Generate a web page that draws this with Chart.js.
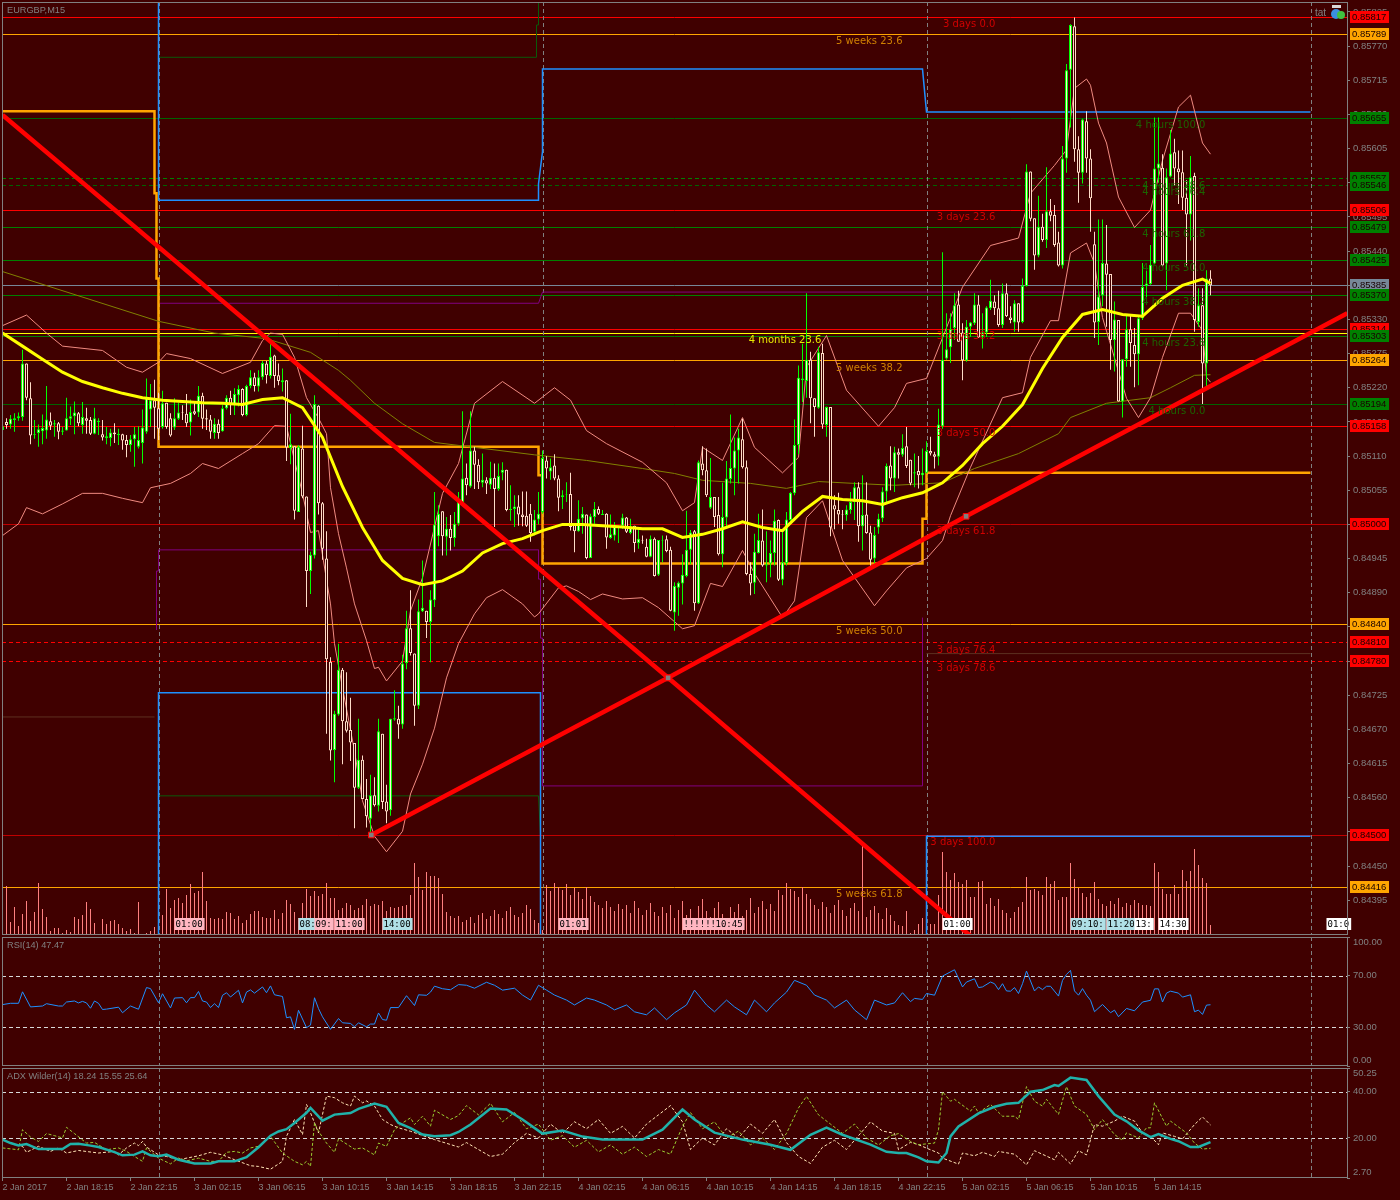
<!DOCTYPE html>
<html>
<head>
<meta charset="utf-8">
<title>EURGBP,M15</title>
<script src="https://cdn.jsdelivr.net/npm/chart.js@4/dist/chart.umd.min.js"></script>
<style>
html, body { margin: 0; padding: 0; background: #400000; }
canvas { position: absolute; left: 0; display: block; }
</style>
</head>
<body>
<canvas id="pricePane" width="1400" height="936" style="top:0"></canvas>
<canvas id="rsiPane" width="1400" height="131" style="top:936px"></canvas>
<canvas id="adxPane" width="1400" height="132" style="top:1068px"></canvas>
<script>
// prices are kept in points (0.85385 = 85385)
const highs = [85166,85171,85176,85179,85180,85281,85259,85229,85168,85161,
85177,85223,85180,85168,85165,85157,85204,85190,85198,85181,
85197,85188,85173,85188,85171,85168,85157,85154,85163,85154,
85146,85144,85144,85157,85158,85185,85235,85226,85233,85212,
85215,85196,85179,85203,85196,85192,85210,85201,85197,85223,
85212,85185,85176,85171,85169,85192,85208,85215,85219,85224,
85219,85225,85248,85244,85248,85263,85263,85296,85273,85259,
85251,85232,85178,85126,85128,85159,85045,84956,85208,85192,
85036,84989,84786,84700,84808,84769,84762,84721,84648,84687,
84628,84590,84597,84593,84687,84663,84581,84687,84733,84708,
84790,84861,84894,84792,84879,84942,84861,84894,85052,85031,
85021,85012,85015,85020,85052,85182,85098,85182,85125,85105,
85114,85076,85101,85098,85098,85100,85088,85063,85047,85047,
85053,85053,85033,85023,85052,85119,85110,85106,85113,85079,
85055,85068,85083,85001,85039,85028,85016,85017,85036,85029,
85023,85018,85016,85004,84998,85017,85012,85009,84998,84996,
84982,84977,84982,84979,84975,84982,84982,84964,84907,84908,
84952,85022,84991,84991,85103,85126,85122,85107,85044,85044,
85067,85102,85177,85140,85154,85170,85103,84939,84985,85017,
85024,84989,84974,85024,85008,84988,85020,85052,85169,85256,
85291,85372,85278,85203,85286,85291,85190,85189,85047,85051,
85023,85031,85052,85068,85068,85079,85068,84998,84996,85017,
85060,85098,85126,85125,85122,85145,85157,85104,85114,85110,
85122,85134,85141,85117,85186,85438,85340,85340,85372,85376,
85324,85329,85326,85372,85369,85340,85351,85394,85369,85376,
85388,85388,85351,85361,85356,85396,85580,85568,85493,85529,
85500,85575,85524,85514,85471,85609,85741,85805,85816,85625,
85653,85665,85604,85471,85491,85491,85482,85403,85359,85329,
85266,85336,85336,85316,85337,85421,85418,85450,85655,85655,
85596,85573,85635,85621,85602,85602,85554,85593,85566,85380,
85380,85409,85409];
const lows = [85138,85154,85154,85149,85167,85167,85200,85129,85138,85125,
85129,85138,85152,85141,85137,85144,85151,85160,85145,85158,
85146,85146,85144,85145,85144,85135,85129,85126,85131,85128,
85120,85108,85117,85093,85122,85098,85146,85157,85138,85136,
85154,85154,85141,85152,85168,85168,85157,85143,85176,85173,
85154,85152,85138,85138,85138,85149,85185,85176,85176,85190,
85174,85174,85219,85214,85214,85233,85227,85235,85220,85224,
85214,85102,85097,85008,85020,85042,84867,84888,84945,85016,
84943,84663,84620,84585,84692,84614,84665,84619,84511,84574,
84558,84512,84496,84546,84538,84542,84519,84531,84684,84655,
84671,84767,84789,84676,84703,84859,84817,84778,84867,84965,
84950,84950,84958,84964,84998,85031,85047,85059,85057,85057,
85060,85049,85057,84996,85054,85071,85021,85006,84996,84998,
84997,84996,84972,84982,85000,85017,85074,85072,85071,85021,
85025,85036,84990,84955,84988,84985,84944,84946,85001,85015,
85015,84961,84977,84974,84970,84993,84986,84984,84955,84961,
84969,84947,84947,84916,84917,84939,84955,84860,84829,84853,
84871,84915,84936,84861,84872,85079,85044,85025,84996,84950,
84931,84996,85066,85047,85066,85090,84918,84886,84888,84953,
84932,84907,84915,84934,84909,84902,84934,85006,85047,85113,
85197,85204,85163,85141,85186,85154,85141,84981,84992,85001,
84992,85006,85017,85007,84972,84958,84985,84927,84937,84985,
85004,85036,85055,85052,85074,85109,85091,85063,85060,85058,
85063,85082,85111,85090,85095,85154,85265,85260,85297,85294,
85232,85262,85302,85321,85300,85283,85302,85345,85337,85318,
85316,85334,85324,85310,85310,85324,85383,85488,85410,85430,
85455,85445,85488,85447,85415,85412,85566,85639,85584,85518,
85549,85566,85471,85300,85289,85351,85318,85249,85246,85198,
85172,85254,85254,85221,85224,85329,85356,85386,85419,85550,
85415,85377,85559,85546,85516,85506,85417,85457,85310,85318,
85194,85221,85369];
const opens = [85152,85165,85161,85168,85171,85173,85259,85203,85144,85147,
85150,85151,85166,85161,85163,85149,85151,85170,85174,85179,
85160,85171,85168,85146,85165,85145,85139,85139,85148,85144,
85145,85136,85128,85137,85125,85131,85149,85185,85200,85187,
85157,85196,85171,85156,85170,85181,85178,85164,85182,85180,
85207,85171,85169,85147,85162,85150,85187,85204,85194,85208,
85218,85176,85223,85237,85222,85237,85259,85239,85272,85240,
85229,85232,85123,85126,85020,85122,85045,84925,84950,85191,
85034,84945,84779,84637,84694,84766,84683,84669,84648,84576,
84621,84558,84526,84564,84547,84663,84554,84540,84686,84687,
84678,84777,84833,84792,84708,84860,84861,84843,84878,84981,
85021,84980,84993,84978,85001,85034,85075,85061,85119,85096,
85067,85071,85064,85075,85057,85083,85088,85023,85025,85029,
85016,85014,85017,84988,85008,85020,85103,85085,85095,85074,
85044,85048,85049,85000,84989,85010,85016,84946,85012,85025,
85015,85017,84978,84982,84996,84998,85011,84986,84998,84970,
84975,84964,84948,84977,84919,84974,84976,84959,84858,84898,
84905,84917,84959,84989,84873,85098,85087,85027,85044,85015,
84952,85011,85073,85090,85119,85137,85092,84920,84906,84954,
84974,84934,84937,84954,85007,84911,84938,85007,85050,85128,
85232,85231,85265,85203,85188,85276,85160,85189,85031,85023,
85016,85015,85023,85036,85060,84997,85016,84987,84945,84995,
85010,85053,85095,85074,85116,85112,85126,85104,85082,85086,
85079,85083,85118,85113,85109,85158,85267,85285,85316,85354,
85309,85264,85318,85324,85354,85302,85309,85348,85359,85348,
85321,85372,85333,85325,85356,85326,85384,85568,85493,85433,
85479,85458,85504,85498,85454,85417,85589,85732,85802,85604,
85566,85649,85589,85451,85326,85369,85420,85403,85297,85329,
85198,85266,85314,85289,85274,85332,85384,85387,85420,85573,
85574,85420,85560,85599,85573,85567,85526,85499,85561,85326,
85353,85259,85396];
const closes = [85158,85160,85170,85171,85174,85259,85204,85143,85145,85153,
85155,85169,85159,85163,85149,85151,85171,85174,85180,85163,
85173,85167,85146,85171,85167,85140,85142,85148,85145,85146,
85135,85128,85137,85145,85136,85156,85204,85200,85188,85154,
85195,85157,85143,85171,85180,85180,85163,85181,85178,85207,
85170,85169,85149,85162,85147,85187,85204,85192,85210,85218,
85176,85223,85237,85223,85237,85260,85240,85270,85239,85231,
85232,85124,85129,85022,85125,85045,84925,84951,85194,85034,
84961,84783,84636,84695,84766,84683,84668,84649,84576,84621,
84558,84530,84564,84548,84667,84553,84538,84687,84688,84678,
84776,84833,84793,84708,84860,84866,84843,84879,85000,85017,
84981,84993,84978,85001,85041,85074,85063,85119,85096,85068,
85072,85066,85075,85057,85078,85088,85023,85025,85029,85016,
85012,84998,84986,85008,85017,85107,85090,85092,85074,85043,
85047,85049,84996,84989,85009,85017,84946,85013,85025,85017,
85017,84979,84984,84997,84997,85011,84988,84997,84970,84977,
84974,84948,84977,84917,84975,84975,84957,84861,84901,84906,
84919,84959,84987,84873,85100,85087,85047,85044,85012,84952,
85012,85074,85091,85119,85140,85092,84920,84905,84956,84975,
84934,84936,84954,85006,84911,84939,85008,85051,85128,85236,
85235,85265,85203,85189,85277,85161,85189,84995,85024,85016,
85015,85024,85036,85060,84997,85015,84986,84943,84983,85009,
85053,85094,85074,85116,85112,85123,85094,85066,85084,85079,
85083,85118,85114,85109,85161,85265,85282,85314,85353,85294,
85264,85318,85325,85354,85301,85309,85349,85360,85348,85321,
85372,85335,85329,85356,85325,85384,85568,85492,85433,85479,
85458,85504,85497,85450,85417,85589,85731,85804,85604,85566,
85652,85589,85525,85325,85367,85421,85402,85297,85330,85198,
85266,85314,85292,85274,85332,85382,85388,85418,85573,85581,
85417,85559,85597,85573,85567,85526,85499,85559,85329,85353,
85259,85396,85385];
const tickVolume = [20,49,13,28,9,21,34,14,23,52,
26,18,4,7,7,2,5,3,18,16,
20,33,26,12,1,16,11,14,15,11,
7,4,6,2,33,1,2,4,8,54,
20,46,27,35,37,32,40,51,42,44,
63,34,17,16,17,16,23,22,16,19,
12,15,21,24,24,18,17,17,25,16,
22,35,31,23,17,32,46,39,44,39,
41,52,37,37,25,27,32,30,25,27,
30,36,29,31,30,34,24,28,27,28,
29,30,40,72,58,45,63,59,59,57,
41,23,19,17,19,13,15,18,12,20,
22,16,19,25,21,17,24,28,20,18,
22,30,26,15,12,5,50,44,52,48,
45,51,40,47,43,36,48,39,33,30,
27,34,28,24,31,26,30,22,34,27,
20,25,32,23,19,28,22,30,17,25,
34,20,26,15,29,36,24,18,27,33,
21,16,28,23,31,19,25,37,22,28,
34,26,31,24,45,40,52,46,44,38,
48,41,36,30,26,33,28,22,30,35,
25,19,27,32,24,92,18,25,29,22,
16,27,20,14,10,9,24,2,5,11,
17,17,11,11,40,83,63,55,62,53,
51,55,38,38,53,54,31,37,29,36,
25,22,17,23,28,33,58,45,46,44,
40,58,51,54,35,38,38,72,56,47,
42,38,42,53,36,31,29,34,31,37,
28,32,30,35,32,30,30,29,72,63,
46,41,41,50,41,65,54,64,86,70,
57,52,10];

const smaBars = [0,5,10,15,20,25,30,35,40,45,50,55,60,65,70,75,80,85,90,95,100,105,110,115,120,125,130,135,140,145,150,155,160,165,170,175,180,185,190,195,200,205,210,215,220,225,230,235,240,245,250,255,260,265,270,275,280,285,290,295,300,302];
const smaValues = [85308,85287,85266,85245,85230,85220,85211,85204,85200,85198,85196,85195,85193,85201,85204,85188,85140,85061,84995,84942,84913,84903,84909,84925,84954,84969,84977,84990,85000,85000,84998,84996,84993,84993,84979,84984,84993,85004,84995,84990,85021,85045,85040,85038,85032,85043,85051,85067,85095,85130,85158,85193,85251,85301,85338,85346,85338,85335,85364,85385,85395,85388];
const bandUpperBars = [0,6,11,15,25,31,35,39,41,47,55,62,65,67,70,73,76,79,81,82,84,86,88,91,93,94,96,100,102,105,110,114,118,125,133,138,142,146,151,160,166,170,173,175,180,185,188,195,199,201,206,211,219,223,226,231,237,240,247,254,257,263,266,268,271,272,274,276,279,283,287,290,294,297,300,302];
const bandUpperValues = [85320,85337,85308,85287,85280,85253,85245,85261,85275,85267,85243,85261,85296,85308,85306,85269,85204,85171,85146,85059,84985,84930,84872,84813,84768,84770,84748,84780,84861,84914,85050,85098,85195,85230,85195,85220,85200,85151,85130,85100,85067,85022,85035,85124,85103,85172,85124,85083,85108,85253,85304,85216,85158,85188,85227,85235,85333,85382,85449,85461,85533,85578,85603,85702,85717,85707,85646,85614,85527,85478,85506,85586,85672,85691,85614,85596];
const bandLowerBars = [0,4,6,10,15,20,25,30,35,37,42,47,50,54,60,64,68,71,73,75,77,79,82,83,85,88,90,93,96,100,102,105,108,111,114,118,121,125,130,133,134,139,141,144,147,150,155,160,164,170,173,177,180,185,188,195,198,201,205,210,218,221,226,231,235,237,242,250,255,257,262,264,267,271,273,275,281,284,287,290,294,297,300,301,302];
const bandLowerValues = [84982,85001,85027,85017,85033,85050,85050,85042,85035,85059,85066,85082,85098,85090,85114,85130,85159,85158,85103,85050,84987,84990,84872,84808,84737,84635,84555,84498,84473,84506,84566,84614,84672,84753,84808,84856,84882,84895,84872,84851,84856,84898,84901,84892,84879,84888,84880,84882,84866,84832,84837,84905,84900,84958,84921,84850,84877,85011,85038,84942,84869,84893,84930,84945,84974,85014,85092,85204,85212,85269,85328,85328,85437,85453,85420,85333,85203,85172,85204,85269,85340,85340,85312,85237,85229];
const longMaBars = [0,39,53,66,77,84,87,93,100,108,118,133,146,160,168,175,187,196,204,213,223,235,243,254,264,267,276,287,292,298,302];
const longMaValues = [85407,85327,85308,85299,85277,85248,85232,85195,85162,85132,85124,85112,85103,85090,85082,85071,85066,85058,85069,85066,85063,85067,85090,85114,85146,85172,85195,85204,85220,85240,85241];

const dayBreakBars = [39,135,231,327];

// daily range steps
const orangeStepBars = [0,38,38,38.5,38.5,39,39,134,134,135,135,230,230,231,231,327];
const orangeStepValues = [85665,85665,85533,85533,85396,85396,85125,85125,85079,85079,84937,84937,85009,85009,85083,85083];
const blueHighBars = [39,39,134,134,135,135,230,231,327];
const blueHighValues = [85850,85522,85522,85548,85600,85733,85733,85664,85664];
const blueLowBars = [39,39,134,134.5,134.5];
const blueLowValues = [84300,84729,84729,84729,84300];
const blueLastBars = [231,231,327];
const blueLastValues = [84300,84498,84498];
const purpleHighBars = [39,134,135,327];
const purpleHighValues = [85356,85356,85374,85374];
const purpleLowBars = [38.5,38.5,39,39,134,134,134.5,134.5,135,135,230,230];
const purpleLowValues = [84830,84925,84925,84959,84959,84912,84912,84817,84817,84579,84579,84850];
const dimHighBars = [39,133.5,133.5,134,134];
const dimHighValues = [85752,85752,85804,85804,85850];
const dimLowBars = [39,39,134,134.5,134.5];
const dimLowValues = [84300,84563,84563,84500,84300];
const dimLeftBars = [0,38];
const dimLeftValues = [84690,84690];
const dimRightBars = [231,327];
const dimRightValues = [84792,84792];

// hand drawn trend lines, the middle anchors carry the square handles
const fallingTrendBars = [0,166.4,243];
const fallingTrendValues = [85659,84753,84332];
const risingTrendBars = [92.2,166.4,240.9,336.2];
const risingTrendValues = [84500,84753,85013,85340];

// horizontal price levels
const levelValues = [85817,85789,85655,85557,85546,85506,85479,85425,85385,85370,85314,85308,85303,85264,85194,85158,85000,84840,84810,84780,84500,84416];
const levelNames = ['3 days 0.0','5 weeks 23.6','4 hours 100.0','4 hours 78.6','4 hours 76.4','3 days 23.6','4 hours 61.8','4 hours 50.0','','4 hours 38.2','3 days 38.2','4 months 23.6','4 hours 23.6','5 weeks 38.2','4 hours 0.0','3 days 50.0','3 days 61.8','5 weeks 50.0','3 days 76.4','3 days 78.6','3 days 100.0','5 weeks 61.8'];
const levelColors = ['#ff0000','#ffa500','#006400','#008000','#006400','#ff0000','#008000','#008000','#778899','#008000','#ff0000','#ffff00','#008000','#ffa500','#006400','#ff0000','#c00000','#ffa500','#ff0000','#ff0000','#c00000','#ffa500'];
const levelDashed = [0,0,0,1,1,0,0,0,0,0,0,0,0,0,0,0,0,0,1,1,0,0];
const levelBoxed = [1,1,1,1,1,1,1,1,1,1,1,0,1,1,1,1,1,1,1,1,1,1];

const priceTicks = [85825,85770,85715,85660,85605,85550,85495,85440,85385,85330,85275,85220,85165,85110,85055,85000,84945,84890,84835,84780,84725,84670,84615,84560,84505,84450,84395];
const timeTickBars = [0,16,32,48,64,80,96,112,128,144,160,176,192,208,224,240,256,272,288];
const timeTickLabels = ['2 Jan 2017','2 Jan 18:15','2 Jan 22:15','3 Jan 02:15','3 Jan 06:15','3 Jan 10:15','3 Jan 14:15','3 Jan 18:15','3 Jan 22:15','4 Jan 02:15','4 Jan 06:15','4 Jan 10:15','4 Jan 14:15','4 Jan 18:15','4 Jan 22:15','5 Jan 02:15','5 Jan 06:15','5 Jan 10:15','5 Jan 14:15'];

// session tags sitting on the volume bars
const tagBars = [43,74,78,83,95,139,170,178,235,267,271,276,283,289,331];
const tagTexts = ['01:00','08:','09:','11:00','14:00','01:01','!!!!!! !','10:45','01:00','09:','10:','11:20','13:','14:30','01:0'];
const tagFills = ['#ffb6c1','#b0e0e6','#ffb6c1','#ffb6c1','#b0e0e6','#ffb6c1','#ffb6c1','#ffb6c1','#ffffff','#b0e0e6','#b0e0e6','#b0e0e6','#ffffff','#ffffff','#ffffff'];

// RSI(14)
const rsiBars = [0,2,4,5,7,10,11,14,15,16,18,19,20,21,22,23,24,25,26,29,30,32,34,36,37,39,40,42,43,45,46,47,48,49,50,51,52,53,54,55,56,57,59,60,61,62,63,65,66,67,68,70,71,72,73,74,76,77,78,79,80,82,84,85,87,88,89,91,92,93,94,95,96,97,99,101,103,104,106,107,108,110,112,114,116,118,121,123,125,128,130,132,134,136,138,141,143,146,148,151,153,156,158,161,163,166,168,171,173,176,178,181,183,186,188,191,193,196,198,201,203,206,208,211,213,216,218,221,223,225,227,228,230,231,233,235,238,240,241,243,244,245,247,248,249,250,251,252,253,254,255,256,258,259,260,261,262,264,265,266,267,268,269,270,271,272,273,275,277,278,279,281,283,285,287,288,289,290,291,292,294,295,297,298,299,300,301,302];
const rsiValues = [47.6,48.6,48.6,57.5,45.8,46.5,48.3,46.5,46.5,49.6,50.4,48.9,50.1,48.9,44.8,50.4,48.6,43.8,44.1,45.6,41.3,46.5,44,60.8,60,49,56,45,52.7,53,49,53,53,57.8,50.4,49.6,45.3,48.3,45.3,54.8,56.8,53.5,58.7,48.9,57.3,59,56.5,61.3,56.8,62.1,55.2,53.9,37.4,38.1,28.4,43.2,29.7,31.7,52.9,44.5,38.1,28.4,36.8,33.5,33,30.4,33.5,30.4,32.5,32.5,41.1,36,35.5,45.3,45.3,54.5,46.9,55.2,54.8,57.3,61.9,59.9,59.1,63.1,62.6,60.3,64.9,62.6,58.8,60.3,55,51.1,62.6,58.8,55,51.1,47.3,52.7,51.1,47.3,43.5,47.3,42,39.7,45,35.9,41.2,47.3,58.8,47.3,42,51.1,45.8,39.7,51.1,42,48.9,57.3,66.4,62.6,55,51.1,45,51.1,43.5,35.9,51.1,47.3,48.9,56.8,49.9,52.4,51.6,56.2,54.9,69.7,74.6,61.3,65.1,67.6,60.8,61.3,65.1,63.8,59.2,63.8,58.2,58,60.8,56.2,63.8,73.6,58.2,61.3,59.2,61.8,61.8,54.2,66.4,71,74.1,58.2,54.9,60,54.9,51,42.1,47.7,41.3,43.3,38.2,44.6,42.8,49.6,50.9,59.8,59.8,49.6,56.5,58,56.5,53.4,55.2,42.1,43.3,40,47.2,47.47];
const rsiGuides = [70,30];
const rsiTicks = [100,70,30,0];

// ADX Wilder(14)
const adxBars = [0,2,4,6,9,12,15,17,19,22,24,28,30,33,35,37,39,41,44,48,52,54,58,61,64,67,69,71,73,76,77,80,83,87,89,93,96,99,102,105,108,112,114,117,122,126,130,135,140,145,150,155,160,165,170,173,178,185,192,197,202,206,210,217,221,224,226,229,231,234,236,237,239,244,248,251,254,257,260,263,264,267,271,274,278,281,284,287,289,292,294,297,299,302];
const adxValues = [19.3,17.8,16.8,17.4,15.2,15.2,15.2,17.4,17.5,16.7,16.1,13.9,12.5,12.8,14.2,12.5,12.1,12.8,10.6,9,9,9.9,9.9,11.7,16,21,22.8,23.8,26.5,30.9,33,27.5,30.1,30.8,32.6,34.9,33.5,26.5,24.3,21.5,20.7,21.2,22.6,25.8,32.7,32.3,28,21.9,23.2,20.6,19.3,19.3,19.3,23.6,32.3,28,22.3,19.3,17.1,14.9,21.4,24.5,21.4,17.1,14,13.5,13.5,11.6,9.9,9.4,13.5,20.7,25,30.6,33.5,34.8,35.2,40,40.7,42.9,42.5,46.1,45.1,38.1,30.1,27.2,23.3,20.4,21.7,19.6,18.6,16.1,16.1,18.24];
const minusDiBars = [0,4,5,7,9,11,13,15,16,18,21,23,26,29,31,33,35,36,39,42,44,46,49,52,54,56,58,60,62,64,67,70,73,75,76,77,78,79,81,83,84,88,90,93,94,96,98,100,102,103,105,107,108,112,114,116,119,122,125,128,131,134,137,140,143,146,149,152,155,158,161,164,167,170,172,175,178,181,184,187,190,193,196,199,201,204,207,210,213,216,219,222,224,227,229,233,234,235,237,238,242,243,244,247,250,253,254,255,256,258,260,261,264,266,268,271,273,275,278,280,281,284,286,287,288,291,292,296,298,300,302];
const minusDiValues = [15.7,14.9,23.6,20.4,18.5,21.9,21,20,24.6,21.9,17.8,18.1,14.9,15.7,14.2,12,9.9,15.7,11.3,8.8,11.3,10.1,11.3,9.9,9.9,13.8,14.2,13.5,15.7,16.4,20.7,13.5,9.9,8.4,9.9,7.7,26.5,22.9,17.8,13.8,19.6,15.2,15.7,12.7,17.8,16.4,23.6,26.5,28.7,25.8,29.4,25.1,32,28,29.7,34,30,35,27,31,24,26,19,21,16,19,14,17,13,16,12,15,13,25,31,24,27,20,23,17,20,15,22,33,38,30,26,22,26,20,17,21,21.9,18.5,17.1,17.8,23.6,40,35.9,36.7,31.6,33.8,30.9,34.5,29.4,29.4,28,35.2,42.2,35.9,33.8,36.7,30.2,42.2,33.8,30.2,23.6,28,21.5,19,22.2,20,24.4,24.4,35.2,25.1,27.3,22.2,17.8,15.2,15.55];
const plusDiBars = [0,3,5,6,9,12,14,16,19,24,28,29,31,33,34,35,36,39,41,44,49,52,55,58,62,64,67,70,71,73,75,76,77,79,81,83,85,87,88,90,91,93,95,97,99,102,108,114,116,119,122,125,128,131,134,137,140,143,146,149,152,155,158,161,164,167,170,172,175,178,181,184,187,190,193,196,199,202,205,208,211,214,217,220,223,224,227,229,232,234,235,239,240,243,245,248,249,253,256,258,263,264,267,269,271,273,275,278,280,283,285,287,289,290,293,295,298,300,302];
const plusDiValues = [19.3,17.1,16.4,13.8,16.4,14.2,15.7,13.5,14.6,13.5,14.2,12.7,15.7,17.8,16.7,18.5,16.1,12.7,12,10.6,12.3,13.8,12.7,10.6,8,7.7,6.5,9.9,20.7,28,21.5,34.5,30.9,22.2,38.1,37.4,35.2,33.8,38.1,35.2,36,33.8,28,25.8,24.4,22.9,19.3,16.1,18,15,12,13,18,22,20,26,22,27,24,28,22,25,20,26,30,34,27,15,20,17,24,20,26,22,28,18,12,9,16,19,15,21,27,23,22,14.9,18.1,17.1,14.9,13.5,11.3,8.7,13.5,12.3,13.8,12,14.2,13,8.4,14.5,10.6,13.8,8.8,14.5,12.7,25.8,25.1,27.3,29.4,27.3,22.2,20.7,17.1,22.2,20.7,19.6,25.8,29.1,25.64];
const adxGuides = [40,20];
const adxTicks = [50.25,40,20,2.7];

const barIndex = closes.map((c, i) => i);
const FONT = '"Liberation Sans", sans-serif';
const AXIS_GRAY = '#808080';
const BG = '#400000';

const xMin = -0.125, xMax = 336.125;

function poly(bars, values, color, width, order, axisId, dash) {
  return {
    type: 'line',
    data: bars.map((b, i) => ({ x: b, y: values[i] })),
    borderColor: color,
    borderWidth: width,
    borderDash: dash || [],
    pointRadius: 0,
    tension: 0,
    fill: false,
    order: order,
    yAxisID: axisId || 'y'
  };
}

function xScale(showLabels) {
  return {
    type: 'linear', min: xMin, max: xMax, offset: false,
    display: showLabels,
    position: 'bottom',
    grid: { display: showLabels, drawOnChartArea: false, offset: false, color: AXIS_GRAY, tickLength: 3 },
    border: { display: false },
    afterBuildTicks: ax => { ax.ticks = timeTickBars.map(v => ({ value: v })); },
    afterFit: ax => { if (showLabels) ax.height = 22; },
    ticks: {
      color: AXIS_GRAY, font: { family: FONT, size: 9 }, autoSkip: false, maxRotation: 0, minRotation: 0,
      align: 'start', padding: 1,
      callback: (v, i) => timeTickLabels[i]
    }
  };
}

// frame, day separators, level lines and the labels on top of the marks
const paneDecor = {
  id: 'paneDecor',
  beforeDatasetsDraw(chart, args, opts) {
    const { ctx, chartArea: a, scales } = chart;
    ctx.save();
    ctx.lineWidth = 1;
    if (opts.levels) {
      levelValues.forEach((v, i) => {
        const y = Math.round(scales.y.getPixelForValue(v)) + 0.5;
        ctx.strokeStyle = levelColors[i];
        ctx.setLineDash(levelDashed[i] ? [4, 3] : []);
        ctx.beginPath(); ctx.moveTo(a.left, y); ctx.lineTo(a.right, y); ctx.stroke();
      });
    }
    (opts.guides || []).forEach(v => {
      const y = Math.round(scales.y.getPixelForValue(v)) + 0.5;
      ctx.strokeStyle = '#d8d8d8';
      ctx.setLineDash([4, 3]);
      ctx.beginPath(); ctx.moveTo(a.left, y); ctx.lineTo(a.right, y); ctx.stroke();
    });
    ctx.strokeStyle = AXIS_GRAY;
    ctx.setLineDash([4, 3]);
    dayBreakBars.forEach(b => {
      const x = Math.round(scales.x.getPixelForValue(b)) + 0.5;
      ctx.beginPath(); ctx.moveTo(x, a.top); ctx.lineTo(x, a.bottom); ctx.stroke();
    });
    ctx.restore();
  },
  afterDatasetsDraw(chart, args, opts) {
    const { ctx, chartArea: a, scales } = chart;
    ctx.save();
    ctx.textBaseline = 'middle';

    if (opts.levels) {
      ctx.font = '10px "DejaVu Sans", sans-serif';
      ctx.textAlign = 'right';
      const ends = { '3 days': 248.2, '5 weeks': 225, '4 hours': 300.7, '4 months': 204.7 };
      const tints = { '3 days': '#d00000', '5 weeks': '#d08000', '4 hours': '#1c6400', '4 months': '#e8e800' };
      levelNames.forEach((name, i) => {
        if (!name) return;
        const fam = name.replace(/ [\d.]+$/, '');
        ctx.fillStyle = tints[fam];
        ctx.fillText(name, scales.x.getPixelForValue(ends[fam]), scales.y.getPixelForValue(levelValues[i]) + 7.5);
      });

      // price boxes on the right axis
      ctx.font = '9.5px ' + FONT;
      ctx.textAlign = 'left';
      levelValues.forEach((v, i) => {
        if (!levelBoxed[i]) return;
        const y = Math.round(scales.y.getPixelForValue(v));
        ctx.fillStyle = levelColors[i] === '#006400' ? '#008000' : levelColors[i] === '#c00000' ? '#ff0000' : levelColors[i];
        ctx.fillRect(a.right + 3, y - 6, 39, 12);
        ctx.fillStyle = '#1a0000';
        ctx.fillText((v / 100000).toFixed(5), a.right + 5, y + 0.5);
      });

      // session tags
      ctx.font = '9px "DejaVu Sans Mono", monospace';
      tagBars.forEach((b, i) => {
        const x = scales.x.getPixelForValue(b), y = scales.vol.getPixelForValue(11);
        const w = ctx.measureText(tagTexts[i]).width + 3;
        ctx.fillStyle = tagFills[i];
        ctx.fillRect(x, y - 6, w, 12);
        ctx.fillStyle = '#000000';
        ctx.fillText(tagTexts[i], x + 1, y + 0.5);
      });

      // terminal badge, top right
      ctx.font = '10px ' + FONT;
      ctx.fillStyle = AXIS_GRAY;
      ctx.fillText('tat', a.right - 32, a.top + 11);
      ctx.fillStyle = '#3a8fe0';
      ctx.beginPath(); ctx.arc(a.right - 11, a.top + 12, 5, 0, 7); ctx.fill();
      ctx.fillStyle = '#40c040';
      ctx.beginPath(); ctx.arc(a.right - 6, a.top + 13, 4, 0, 7); ctx.fill();
      ctx.fillStyle = '#d8d8d8';
      ctx.fillRect(a.right - 15, a.top + 3, 9, 3);
    }

    // pane title
    ctx.font = '9.2px ' + FONT;
    ctx.textAlign = 'left';
    ctx.fillStyle = AXIS_GRAY;
    ctx.fillText(opts.title, a.left + 5, a.top + 8.5);

    // edge ticks stay inside the pane
    if (opts.sideTicks) {
      ctx.font = '9.5px ' + FONT;
      opts.sideTicks.forEach(v => {
        const y = Math.min(a.bottom - 6, Math.max(a.top + 5, scales.y.getPixelForValue(v)));
        ctx.fillText(v.toFixed(2), a.right + 6, y);
      });
    }

    ctx.strokeStyle = AXIS_GRAY;
    ctx.lineWidth = 1;
    ctx.setLineDash([]);
    ctx.strokeRect(a.left + 0.5, a.top + 0.5, a.right - a.left, a.bottom - a.top - 1);
    ctx.restore();
  }
};

function sideAxis(min, max, ticks, showLabels) {
  return {
    type: 'linear', position: 'right', min: min, max: max,
    grid: { drawOnChartArea: false, color: AXIS_GRAY, tickLength: 3 },
    border: { display: false },
    afterBuildTicks: ax => { ax.ticks = ticks.map(v => ({ value: v })); },
    // no room kept for half a label above and below, panes sit edge to edge
    afterFit: ax => { ax.width = 53; ax.paddingTop = 0; ax.paddingBottom = 0; },
    ticks: showLabels
      ? { color: AXIS_GRAY, font: { family: FONT, size: 9.5 }, autoSkip: false, padding: 3, callback: v => (v / 100000).toFixed(5) }
      : { color: 'rgba(0,0,0,0)', font: { size: 9 }, autoSkip: false }
  };
}

const baseOptions = {
  responsive: false,
  animation: false,
  devicePixelRatio: 1,
  events: []
};

const isBull = barIndex.map(i => closes[i] >= opens[i]);

new Chart(document.getElementById('pricePane').getContext('2d'), {
  type: 'bar',
  data: {
    datasets: [
      { type: 'bar', yAxisID: 'y', order: 3, grouped: false, barThickness: 3, inflateAmount: 0, borderWidth: 1, borderSkipped: false,
        data: barIndex.map(i => ({ x: i, y: [opens[i], closes[i]] })),
        backgroundColor: isBull.map(b => b ? '#fff0d8' : BG),
        borderColor: isBull.map(b => b ? '#00ff00' : '#ffdcc8') },
      { type: 'bar', yAxisID: 'y', order: 4, grouped: false, barThickness: 1, inflateAmount: 0,
        data: barIndex.map(i => ({ x: i, y: [lows[i], highs[i]] })),
        backgroundColor: isBull.map(b => b ? '#00ff00' : '#ffdcc8') },
      { type: 'bar', yAxisID: 'vol', order: 9, grouped: false, barThickness: 1, inflateAmount: 0,
        data: barIndex.map(i => ({ x: i, y: tickVolume[i] })),
        backgroundColor: '#ff8080' },
      poly(smaBars, smaValues, '#ffff00', 3, 2),
      poly(bandUpperBars, bandUpperValues, '#f08a80', 1, 6),
      poly(bandLowerBars, bandLowerValues, '#f08a80', 1, 6),
      poly(longMaBars, longMaValues, '#808000', 1, 6),
      poly(orangeStepBars, orangeStepValues, '#ffa500', 2.5, 7),
      poly(blueHighBars, blueHighValues, '#1e90ff', 1.5, 7),
      poly(blueLowBars, blueLowValues, '#1e90ff', 1.5, 7),
      poly(blueLastBars, blueLastValues, '#1e90ff', 1.5, 7),
      poly(purpleHighBars, purpleHighValues, '#800080', 1, 8),
      poly(purpleLowBars, purpleLowValues, '#800080', 1, 8),
      poly(dimHighBars, dimHighValues, '#0a5a0a', 1, 8),
      poly(dimLowBars, dimLowValues, '#0a5a0a', 1, 8),
      poly(dimLeftBars, dimLeftValues, '#5c3020', 1, 8),
      poly(dimRightBars, dimRightValues, '#5c3020', 1, 8),
      Object.assign(poly(fallingTrendBars, fallingTrendValues, '#ff0000', 4.5, 1), {
        pointRadius: [0, 4, 0], pointStyle: 'rect', pointBackgroundColor: '#808080', pointBorderColor: '#ff0000', pointBorderWidth: 1 }),
      Object.assign(poly(risingTrendBars, risingTrendValues, '#ff0000', 4.5, 1), {
        pointRadius: [4, 4, 4, 0], pointStyle: 'rect', pointBackgroundColor: '#808080', pointBorderColor: '#ff0000', pointBorderWidth: 1 })
    ]
  },
  options: Object.assign({}, baseOptions, {
    layout: { autoPadding: false, padding: { left: 2, right: 0, top: 2, bottom: 1 } },
    plugins: { legend: { display: false }, tooltip: { enabled: false }, paneDecor: { title: 'EURGBP,M15', levels: true } },
    scales: {
      x: xScale(false),
      y: sideAxis(84339, 85841, priceTicks, true),
      vol: { type: 'linear', display: false, position: 'left', min: 0, max: 933 }
    }
  }),
  plugins: [paneDecor]
});

new Chart(document.getElementById('rsiPane').getContext('2d'), {
  type: 'line',
  data: { datasets: [poly(rsiBars, rsiValues, '#1e90ff', 1, 1)] },
  options: Object.assign({}, baseOptions, {
    layout: { autoPadding: false, padding: { left: 2, right: 0, top: 1, bottom: 1 } },
    plugins: { legend: { display: false }, tooltip: { enabled: false }, paneDecor: { title: 'RSI(14) 47.47', guides: rsiGuides, sideTicks: rsiTicks } },
    scales: { x: xScale(false), y: sideAxis(0, 100, rsiTicks, false) }
  }),
  plugins: [paneDecor]
});

new Chart(document.getElementById('adxPane').getContext('2d'), {
  type: 'line',
  data: {
    datasets: [
      poly(adxBars, adxValues, '#20b2aa', 2.5, 1),
      poly(minusDiBars, minusDiValues, '#9acd32', 1, 2, 'y', [3, 2]),
      poly(plusDiBars, plusDiValues, '#ffe4b5', 1, 3, 'y', [3, 2])
    ]
  },
  options: Object.assign({}, baseOptions, {
    layout: { autoPadding: false, padding: { left: 2, right: 0, top: 0, bottom: 0 } },
    plugins: { legend: { display: false }, tooltip: { enabled: false }, paneDecor: { title: 'ADX Wilder(14) 18.24 15.55 25.64', guides: adxGuides, sideTicks: adxTicks } },
    scales: { x: xScale(true), y: sideAxis(2.7, 50.25, adxTicks, false) }
  }),
  plugins: [paneDecor]
});
</script>
</body>
</html>
